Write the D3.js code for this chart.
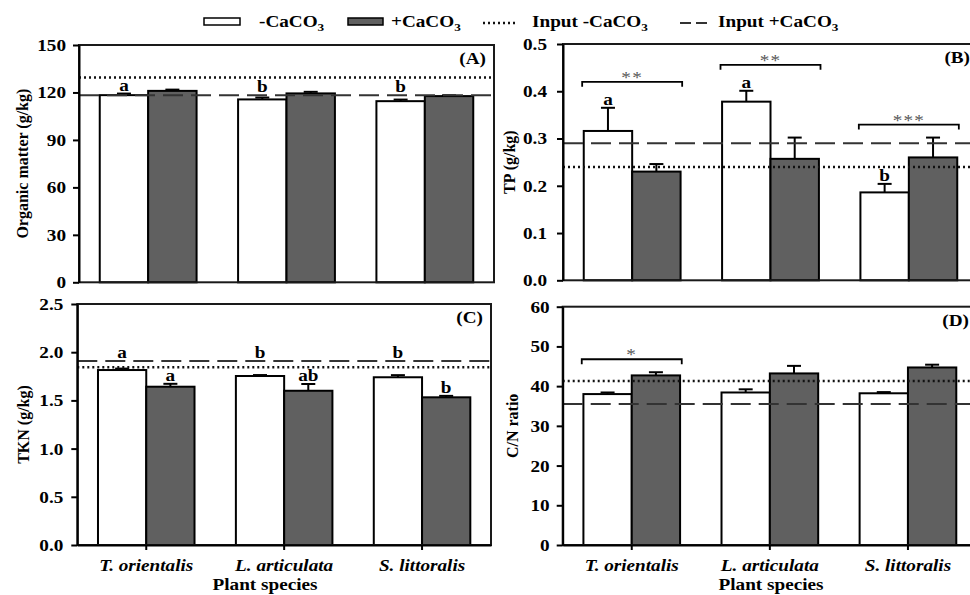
<!DOCTYPE html>
<html>
<head>
<meta charset="utf-8">
<script src="https://cdn.jsdelivr.net/npm/d3@7"></script>
<style>
  body { margin: 0; background: #fff; }
  svg text { font-family: "Liberation Serif", "Times New Roman", "DejaVu Serif", serif; }
</style>
</head>
<body>
<svg id="chart" width="970" height="595"></svg>
<script>
// categories
species = ["T. orientalis", "L. articulata", "S. littoralis"];

// (A) organic matter
omMinus = [118.3, 115.6, 114.5];
omMinusErr = [1.0, 1.2, 1.0];
omPlus = [121.0, 119.4, 117.7];
omPlusErr = [0.8, 1.0, 0.5];
omInput = [129.5, 118.3];          // [-CaCO3 dotted, +CaCO3 dashed]
omLettersMinus = ["a", "b", "b"];
omLettersPlus = ["", "", ""];
omStars = ["", "", ""];
omTicks = [0, 30, 60, 90, 120, 150];

// (B) TP
tpMinus = [0.316, 0.378, 0.186];
tpMinusErr = [0.049, 0.023, 0.018];
tpPlus = [0.230, 0.257, 0.260];
tpPlusErr = [0.016, 0.045, 0.042];
tpInput = [0.24, 0.29];
tpLettersMinus = ["a", "a", "b"];
tpLettersPlus = ["", "", ""];
tpStars = ["**", "**", "***"];
tpTicks = [0, 0.1, 0.2, 0.3, 0.4, 0.5];

// (C) TKN
tknMinus = [1.815, 1.753, 1.740];
tknMinusErr = [0.015, 0.010, 0.022];
tknPlus = [1.642, 1.600, 1.532];
tknPlusErr = [0.030, 0.070, 0.015];
tknInput = [1.843, 1.909];
tknLettersMinus = ["a", "b", "b"];
tknLettersPlus = ["a", "ab", "b"];
tknStars = ["", "", ""];
tknTicks = [0, 0.5, 1.0, 1.5, 2.0, 2.5];

// (D) C/N ratio
cnMinus = [38.0, 38.4, 38.2];
cnMinusErr = [0.4, 0.8, 0.3];
cnPlus = [42.7, 43.2, 44.7];
cnPlusErr = [0.8, 1.9, 0.7];
cnInput = [41.3, 35.5];
cnLettersMinus = ["", "", ""];
cnLettersPlus = ["", "", ""];
cnStars = ["*", "", ""];
cnTicks = [0, 10, 20, 30, 40, 50, 60];

darkFill = "#606060";
serif = "'Liberation Serif', 'Times New Roman', 'DejaVu Serif', serif";
sx = 1.2; // the figure is a bit stretched horizontally

svg = d3.select("#chart");

// horizontal text, stretched like the original
function hText(g, x, y, str) {
    return g.append("text")
        .attr("transform", "translate(" + x + "," + y + ") scale(" + sx + ",1)")
        .attr("font-family", serif)
        .style("font-family", serif)
        .style("font-size", "16px")
        .style("font-weight", "bold")
        .text(str);
}

panels = [
    {id: "(A)", minus: omMinus, minusErr: omMinusErr, plus: omPlus, plusErr: omPlusErr,
     input: omInput, lm: omLettersMinus, lp: omLettersPlus, stars: omStars, ticks: omTicks,
     fmt: d3.format("d"), title: "Organic matter (g/kg)",
     x0: 79, x1: 494, y0: 45, y1: 282.3, pad: 7, titleX: 22, xAxis: false},
    {id: "(B)", minus: tpMinus, minusErr: tpMinusErr, plus: tpPlus, plusErr: tpPlusErr,
     input: tpInput, lm: tpLettersMinus, lp: tpLettersPlus, stars: tpStars, ticks: tpTicks,
     fmt: d3.format(".1f"), title: "TP (g/kg)",
     x0: 563, x1: 978, y0: 44, y1: 280.3, pad: 10, titleX: 509, xAxis: false},
    {id: "(C)", minus: tknMinus, minusErr: tknMinusErr, plus: tknPlus, plusErr: tknPlusErr,
     input: tknInput, lm: tknLettersMinus, lp: tknLettersPlus, stars: tknStars, ticks: tknTicks,
     fmt: d3.format(".1f"), title: "TKN (g/kg)",
     x0: 77.3, x1: 491, y0: 304, y1: 545, pad: 8, titleX: 23, xAxis: true, plantX: 265},
    {id: "(D)", minus: cnMinus, minusErr: cnMinusErr, plus: cnPlus, plusErr: cnPlusErr,
     input: cnInput, lm: cnLettersMinus, lp: cnLettersPlus, stars: cnStars, ticks: cnTicks,
     fmt: d3.format("d"), title: "C/N ratio",
     x0: 562.7, x1: 977, y0: 306.7, y1: 545, pad: 7, titleX: 512, xAxis: true, plantX: 771}
];

// pushes a letter up above any input line it would sit on
function letterBase(errTopY, lineYs) {
    var base = errTopY - 3;
    var sorted = lineYs.slice().sort((a, c) => c - a);
    for (var i = 0; i < sorted.length; i++) {
        var ly = sorted[i];
        if (ly >= base - 9 && ly <= base + 1) base = ly - 3;
    }
    return base;
}

panels.forEach((p) => {
    var g = svg.append("g");
    var x = d3.scaleBand().domain(species).range([p.x0, p.x1]).paddingInner(0.3).paddingOuter(0.15);
    var xs = d3.scaleBand().domain([0, 1]).range([0, x.bandwidth()]);
    var y = d3.scaleLinear().domain([p.ticks[0], p.ticks[p.ticks.length - 1]]).range([p.y1, p.y0]);
    var mid = (d) => x(d.s) + xs(d.k) + xs.bandwidth() / 2;

    // bars
    var rows = [];
    species.forEach((s, i) => {
        rows.push({s: s, k: 0, v: p.minus[i], e: p.minusErr[i], l: p.lm[i], i: i});
        rows.push({s: s, k: 1, v: p.plus[i], e: p.plusErr[i], l: p.lp[i], i: i});
    });
    // error bars (upper only)
    var eb = g.selectAll(".err").data(rows).enter().append("g");
    eb.append("line")
        .attr("x1", mid).attr("x2", mid)
        .attr("y1", (d) => y(d.v))
        .attr("y2", (d) => y(d.v + d.e))
        .attr("stroke", "#000").attr("stroke-width", 2);
    eb.append("line")
        .attr("x1", (d) => mid(d) - 7)
        .attr("x2", (d) => mid(d) + 7)
        .attr("y1", (d) => y(d.v + d.e))
        .attr("y2", (d) => y(d.v + d.e))
        .attr("stroke", "#000").attr("stroke-width", 2);
    g.selectAll(".bar").data(rows).enter().append("rect")
        .attr("x", (d) => x(d.s) + xs(d.k))
        .attr("y", (d) => y(d.v))
        .attr("width", xs.bandwidth())
        .attr("height", (d) => y(0) - y(d.v))
        .attr("fill", (d) => d.k == 0 ? "#fff" : darkFill)
        .attr("stroke", "#000")
        .attr("stroke-width", 2);

    // input lines
    var lineYs = [y(p.input[0]), y(p.input[1])];
    g.append("line")
        .attr("x1", p.x0).attr("x2", p.x1)
        .attr("y1", y(p.input[0])).attr("y2", y(p.input[0]))
        .attr("stroke", "#111").attr("stroke-width", 2.5)
        .attr("stroke-dasharray", "2,3");
    g.append("line")
        .attr("x1", p.x0).attr("x2", p.x1)
        .attr("y1", y(p.input[1])).attr("y2", y(p.input[1]))
        .attr("stroke", "#333").attr("stroke-width", 2)
        .attr("stroke-dasharray", "20,8");

    // letters
    var groupTop = [Infinity, Infinity, Infinity];
    rows.forEach((d) => {
        var barTop = y(d.v + d.e);
        if (d.l != "") {
            var base = letterBase(barTop, lineYs);
            hText(g, mid(d), base, d.l).style("text-anchor", "middle");
            barTop = Math.min(barTop, base - 10);
        }
        groupTop[d.i] = Math.min(groupTop[d.i], barTop);
    });

    // significance brackets
    species.forEach((s, i) => {
        if (p.stars[i] == "") return;
        var cx = x(s) + x.bandwidth() / 2;
        var by = groupTop[i] - 13;
        g.append("path")
            .attr("d", "M" + (cx - 50) + "," + (by + 5) + "V" + by + "H" + (cx + 50) + "V" + (by + 5))
            .attr("fill", "none").attr("stroke", "#000").attr("stroke-width", 1.8);
        hText(g, cx, by + 1, p.stars[i])
            .style("text-anchor", "middle")
            .style("font-weight", "normal")
            .style("letter-spacing", "1px")
            .attr("fill", "#555");
    });

    // frame
    g.append("rect")
        .attr("x", p.x0).attr("y", p.y0)
        .attr("width", p.x1 - p.x0).attr("height", p.y1 - p.y0)
        .attr("fill", "none").attr("stroke", "#1a1a1a").attr("stroke-width", 2);

    // y axis
    var ya = g.append("g")
        .attr("transform", "translate(" + p.x0 + ",0)")
        .call(d3.axisLeft(y).tickValues(p.ticks).tickFormat(p.fmt).tickSize(6).tickSizeOuter(0))
        .attr("font-family", serif);
    ya.select(".domain").attr("stroke-width", 2);
    ya.selectAll(".tick line").attr("stroke-width", 2);
    ya.selectAll(".tick text")
        .attr("x", 0).attr("dy", "0.34em")
        .attr("transform", "translate(" + (-(6 + p.pad)) + ",0) scale(" + sx + ",1)")
        .attr("fill", "#000")
        .style("font-family", serif)
        .style("font-size", "16px")
        .style("font-weight", "bold");

    // y title
    g.append("text")
        .attr("transform", "translate(" + p.titleX + "," + (p.y0 + p.y1) / 2 + ") rotate(-90)")
        .attr("dy", "0.35em")
        .style("text-anchor", "middle")
        .style("font-family", serif)
        .style("font-size", "16px")
        .style("font-weight", "bold")
        .text(p.title);

    // panel tag
    hText(g, p.x1 - 8, p.y0 + 19, p.id).style("text-anchor", "end");

    // x axis
    if (p.xAxis) {
        var xa = g.append("g")
            .attr("transform", "translate(0," + p.y1 + ")")
            .call(d3.axisBottom(x).tickSize(5).tickSizeOuter(0))
            .attr("font-family", serif);
        xa.select(".domain").attr("stroke-width", 2);
        xa.selectAll(".tick line").attr("stroke-width", 2);
        xa.selectAll(".tick text")
            .attr("y", 0).attr("dy", null)
            .attr("transform", "translate(0,26) scale(" + sx + ",1)")
            .attr("fill", "#000")
            .style("font-family", serif)
            .style("font-size", "16px")
            .style("font-weight", "bold")
            .style("font-style", "italic");
        hText(g, p.plantX, 590, "Plant species").style("text-anchor", "middle");
    }
});

// legend
var leg = svg.append("g");
leg.append("rect").attr("x", 204).attr("y", 18).attr("width", 36).attr("height", 7)
    .attr("fill", "#fff").attr("stroke", "#000").attr("stroke-width", 1.5);
leg.append("rect").attr("x", 348).attr("y", 18).attr("width", 35).attr("height", 7)
    .attr("fill", darkFill).attr("stroke", "#000").attr("stroke-width", 1.5);
leg.append("line").attr("x1", 483).attr("x2", 518).attr("y1", 23).attr("y2", 23)
    .attr("stroke", "#111").attr("stroke-width", 2.5).attr("stroke-dasharray", "2,3");
leg.append("line").attr("x1", 680).attr("x2", 707).attr("y1", 23).attr("y2", 23)
    .attr("stroke", "#333").attr("stroke-width", 2).attr("stroke-dasharray", "11,5");

function legendText(x, str) {
    var t = hText(leg, x, 27, "");
    t.append("tspan").text(str);
    t.append("tspan").attr("dy", 4).style("font-size", "11px").text("3");
}
legendText(259, "-CaCO");
legendText(391, "+CaCO");
legendText(532, "Input -CaCO");
legendText(718, "Input +CaCO");
</script>
</body>
</html>
